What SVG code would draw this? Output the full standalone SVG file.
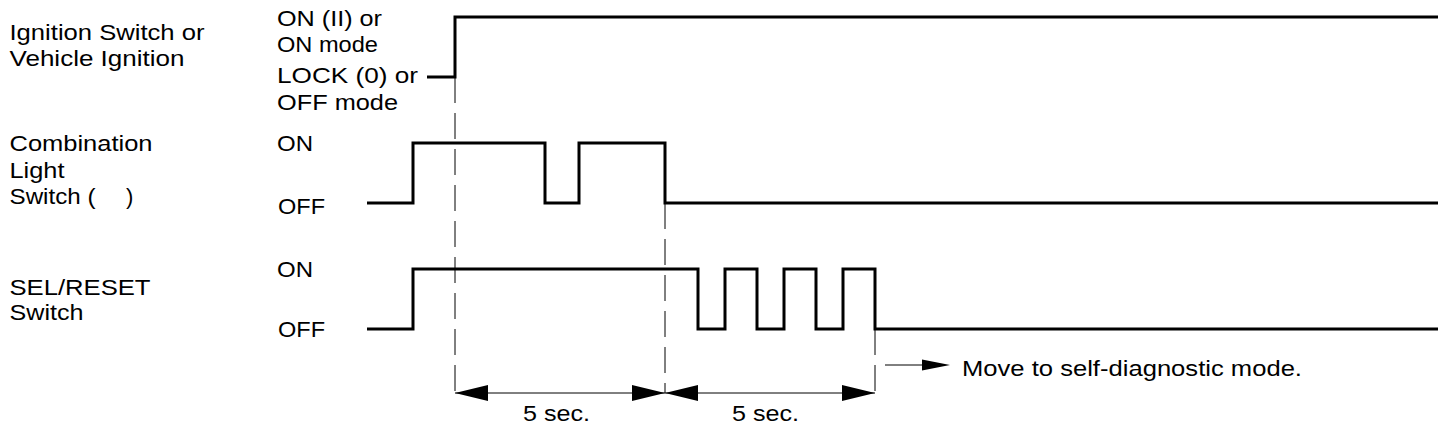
<svg xmlns="http://www.w3.org/2000/svg" width="1456" height="432" viewBox="0 0 1456 432">
  <style>
    text { font-family: "Liberation Sans", Arial, sans-serif; font-size: 22px; fill: #000; }
    .sig { fill: none; stroke: #000; stroke-width: 3; stroke-linejoin: miter; stroke-linecap: butt; }
    .dash { fill: none; stroke: #000; stroke-width: 1; stroke-dasharray: 26 10; }
    .dim { fill: none; stroke: #000; stroke-width: 1; }
    .head { fill: #000; stroke: none; }
  </style>
  <rect width="1456" height="432" fill="#fff"/>

  <g id="ignition">
    <text x="9.5" y="40" textLength="195" lengthAdjust="spacingAndGlyphs">Ignition Switch or</text>
    <text x="9.5" y="66" textLength="175" lengthAdjust="spacingAndGlyphs">Vehicle Ignition</text>
    <text x="277" y="26" textLength="105" lengthAdjust="spacingAndGlyphs">ON (II) or</text>
    <text x="277" y="52" textLength="101" lengthAdjust="spacingAndGlyphs">ON mode</text>
    <text x="277" y="83" textLength="141" lengthAdjust="spacingAndGlyphs">LOCK (0) or</text>
    <text x="277" y="110" textLength="121" lengthAdjust="spacingAndGlyphs">OFF mode</text>
    <path class="sig" d="M427 77 H455 V17 H1438"/>
  </g>

  <g id="combination-light-switch">
    <text x="9.5" y="151" textLength="143" lengthAdjust="spacingAndGlyphs">Combination</text>
    <text x="9.5" y="178" textLength="55" lengthAdjust="spacingAndGlyphs">Light</text>
    <text x="9.5" y="204"><tspan textLength="86" lengthAdjust="spacingAndGlyphs">Switch (</tspan><tspan x="126">)</tspan></text>
    <text x="277" y="151" textLength="36" lengthAdjust="spacingAndGlyphs">ON</text>
    <text x="278" y="214" textLength="47" lengthAdjust="spacingAndGlyphs">OFF</text>
    <path class="sig" d="M367 203 H413 V143 H545 V203 H579 V143 H665 V203 H1438"/>
  </g>

  <g id="sel-reset-switch">
    <text x="9.5" y="295" textLength="141" lengthAdjust="spacingAndGlyphs">SEL/RESET</text>
    <text x="9.5" y="320" textLength="74" lengthAdjust="spacingAndGlyphs">Switch</text>
    <text x="277" y="277" textLength="36" lengthAdjust="spacingAndGlyphs">ON</text>
    <text x="278" y="337" textLength="47" lengthAdjust="spacingAndGlyphs">OFF</text>
    <path class="sig" d="M367 329 H413 V269 H698 V329 H725 V269 H757 V329 H784 V269 H816 V329 H843 V269 H875 V329 H1438"/>
  </g>

  <g id="connectors">
    <path class="dash" d="M455 77 V393"/>
    <path class="dash" d="M665 203 V393"/>
    <path class="dash" d="M875 329 V393"/>
    <path class="dim" d="M455 393 H875"/>
    <polygon class="head" points="455,393 488,385 488,401"/>
    <polygon class="head" points="665,393 632,385 632,401"/>
    <polygon class="head" points="665,393 698,385 698,401"/>
    <polygon class="head" points="875,393 842,385 842,401"/>
    <path class="dim" d="M885 365 H924"/>
    <polygon class="head" points="950,365 922,359.5 922,370.5"/>
  </g>

  <g id="labels">
    <text x="523" y="421" textLength="67" lengthAdjust="spacingAndGlyphs">5 sec.</text>
    <text x="732" y="421" textLength="67" lengthAdjust="spacingAndGlyphs">5 sec.</text>
    <text x="962" y="376" textLength="340" lengthAdjust="spacingAndGlyphs">Move to self-diagnostic mode.</text>
  </g>
</svg>
